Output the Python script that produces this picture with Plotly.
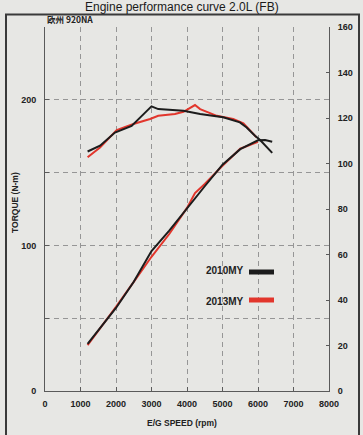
import plotly.graph_objects as go

# ---- data ----
rpm_torque_2010 = [1200, 1550, 1970, 2440, 2770, 3000, 3190, 3500, 3900, 4370, 5020, 5490, 5680, 5915, 6060, 6400]
torque_2010 = [164.5, 168.5, 177.5, 182, 190, 195.5, 193.6, 193, 192.5, 190.2, 188, 184.5, 181, 175.3, 172.4, 163.5]

rpm_torque_2013 = [1200, 1550, 2020, 2490, 2960, 3190, 3660, 3900, 4225, 4370, 4840, 5300, 5590, 5820, 5960]
torque_2013 = [160.5, 167.3, 179.2, 183.4, 186.8, 189, 190.2, 191.8, 196.4, 193.6, 189, 186.8, 183.8, 177.6, 174.2]

rpm_power_2010 = [1200, 1500, 2000, 2500, 3000, 3500, 4000, 4500, 5000, 5500, 6000, 6200, 6400]
power_2010 = [20.7, 26.5, 36.5, 48, 61.5, 70.5, 80.5, 90, 99.5, 106.3, 110.2, 110.3, 109.6]

rpm_power_2013 = [1200, 1500, 2000, 2500, 3000, 3500, 4000, 4225, 4500, 5000, 5500, 5800, 6000]
power_2013 = [20.2, 26.3, 37.0, 48, 59, 69, 80.5, 87.0, 91, 99, 106.5, 108.3, 109.5]

x_ticks = [0, 1000, 2000, 3000, 4000, 5000, 6000, 7000, 8000]
torque_ticks = [0, 50, 100, 150, 200, 250]
torque_ticktext = ["0", "", "100", "", "200", ""]
power_ticks = [0, 20, 40, 60, 80, 100, 120, 140, 160]

BLACK = "#1c1c1c"
RED = "#e2362c"
GRID = "#969696"
AXIS = "#5a5a5a"
TXT = "#222222"
BG = "#e7e7e4"
FONT = "Liberation Sans, Arial, sans-serif"
DASH = "5px,4px"

fig = go.Figure()
fig.add_trace(go.Scatter(x=rpm_power_2013, y=power_2013, yaxis="y2", mode="lines",
                         line=dict(color=RED, width=2), showlegend=False, hoverinfo="skip"))
fig.add_trace(go.Scatter(x=rpm_torque_2013, y=torque_2013, mode="lines",
                         line=dict(color=RED, width=2), showlegend=False, hoverinfo="skip"))
fig.add_trace(go.Scatter(x=rpm_power_2010, y=power_2010, yaxis="y2", mode="lines",
                         line=dict(color=BLACK, width=2), showlegend=False, hoverinfo="skip"))
fig.add_trace(go.Scatter(x=rpm_torque_2010, y=torque_2010, mode="lines",
                         line=dict(color=BLACK, width=2), showlegend=False, hoverinfo="skip"))

# plot area: x 45..329 px, y 27..391 px
PW, PH = 284.0, 364.0
def px(xp):  # pixel x -> paper
    return (xp - 45) / PW
def py(yp):  # pixel y -> paper
    return (391 - yp) / PH

fig.update_layout(
    width=363, height=435,
    margin=dict(l=45, r=34, t=27, b=44, autoexpand=False),
    paper_bgcolor=BG,
    plot_bgcolor=BG,
    font=dict(family=FONT, color=TXT, size=9),
    xaxis=dict(range=[0, 8000], tickvals=x_ticks, showgrid=True, gridcolor=GRID,
               griddash=DASH, gridwidth=1, showline=True, linecolor=AXIS, linewidth=1,
               ticks="inside", ticklen=4, tickcolor=AXIS, zeroline=False, automargin=False,
               ticklabelstandoff=4,
               tickfont=dict(size=9, family=FONT, color=TXT, weight="bold")),
    yaxis=dict(range=[0, 250], tickvals=torque_ticks, ticktext=torque_ticktext,
               showgrid=True, gridcolor=GRID, griddash=DASH, gridwidth=1,
               showline=True, linecolor=AXIS, linewidth=1, ticks="inside", ticklen=4,
               tickcolor=AXIS, zeroline=False, ticklabelstandoff=6, automargin=False,
               tickfont=dict(size=9, family=FONT, color=TXT, weight="bold")),
    yaxis2=dict(range=[0, 160], tickvals=power_ticks, overlaying="y", side="right",
                showgrid=False, showline=True, linecolor=AXIS, linewidth=1,
                ticks="inside", ticklen=3, tickcolor=AXIS, zeroline=False,
                ticklabelstandoff=6, automargin=False,
                tickfont=dict(size=9, family=FONT, color=TXT, weight="bold")),
    annotations=[
        dict(text="Engine performance curve 2.0L (FB)", xref="paper", yref="paper",
             x=px(182), y=py(7.5), xanchor="center", yanchor="middle", showarrow=False,
             font=dict(size=12, family=FONT, color="#1a1a1a")),
        dict(text="欧州 920NA", xref="paper", yref="paper", x=px(45), y=py(18.5),
             xanchor="left", yanchor="middle", showarrow=False,
             font=dict(size=8.5, family="Noto Sans CJK JP, sans-serif", color=TXT, weight="bold")),
        dict(text="E/G SPEED (rpm)", xref="paper", yref="paper", x=px(182), y=py(423),
             xanchor="center", yanchor="middle", showarrow=False,
             font=dict(size=8.5, family=FONT, color=TXT, weight="bold")),
        dict(text="TORQUE (N-m)", xref="paper", yref="paper", x=px(15), y=py(203),
             xanchor="center", yanchor="middle", showarrow=False, textangle=-90,
             font=dict(size=8.5, family=FONT, color=TXT, weight="bold")),
        dict(text="2010MY", xref="paper", yref="paper", x=px(204), y=py(270),
             xanchor="left", yanchor="middle", showarrow=False,
             font=dict(size=10, family=FONT, color=TXT, weight="bold")),
        dict(text="2013MY", xref="paper", yref="paper", x=px(204), y=py(301),
             xanchor="left", yanchor="middle", showarrow=False,
             font=dict(size=10, family=FONT, color=TXT, weight="bold")),
    ],
    shapes=[
        # legend swatches
        dict(type="line", xref="paper", yref="paper", x0=px(249), x1=px(274), y0=py(272), y1=py(272),
             line=dict(color=BLACK, width=5)),
        dict(type="line", xref="paper", yref="paper", x0=px(249), x1=px(274), y0=py(300), y1=py(300),
             line=dict(color=RED, width=5)),
        # outer frame
        dict(type="rect", xref="paper", yref="paper", x0=px(6), x1=px(359), y0=py(445), y1=py(14.5),
             line=dict(color="#3a3a3a", width=2), layer="below"),
    ],
)

fig.write_html(
    "out.html",
    config={"displayModeBar": False},
    post_script="document.body.style.margin='0';document.body.style.overflow='hidden';"
                "document.body.style.background='" + BG + "';",
)
